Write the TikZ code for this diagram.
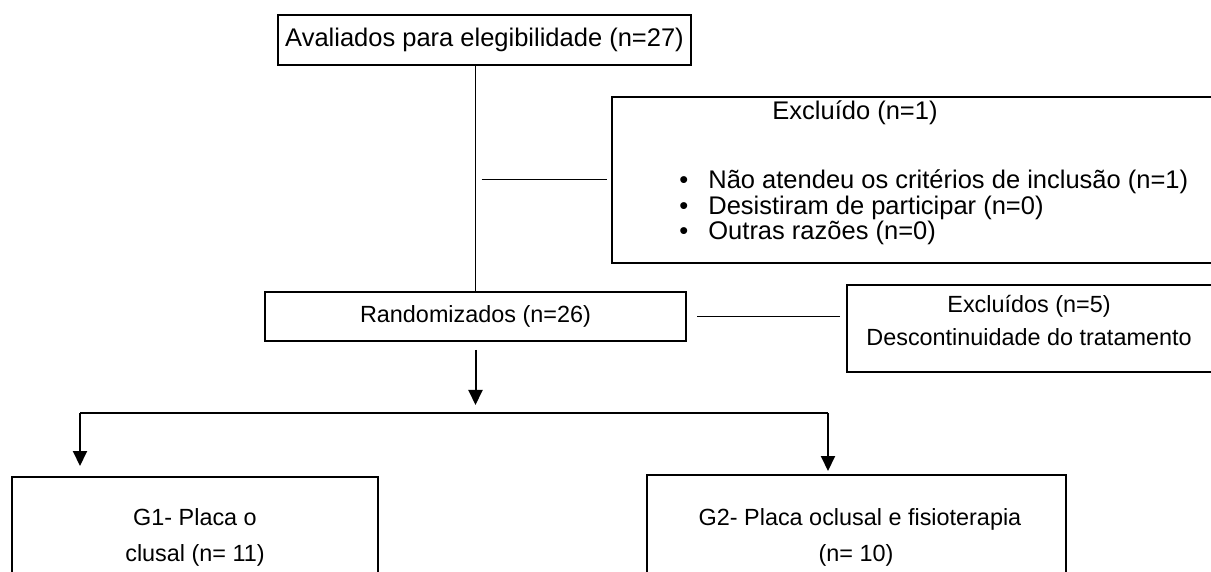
\documentclass[tikz,border=0pt]{standalone}
\usepackage{fontspec}
\setmainfont{Liberation Sans}
\usetikzlibrary{positioning,arrows.meta}

\newcommand{\critbul}{\makebox[14.5pt][l]{\textbullet}}

\begin{document}
\begin{tikzpicture}[x=0.5pt,y=-0.5pt,
  big/.style={font=\fontsize{12.75}{15}\selectfont},
  small/.style={font=\fontsize{11.7}{14}\selectfont},
  box/.style={draw, rectangle, line width=1pt, inner sep=0pt},
  txt/.style={inner sep=0pt, anchor=base},
  link/.style={line width=0.5pt},
  arr/.style={line width=1pt, -{Triangle[width=7pt,length=7.5pt]}}
]
\useasboundingbox (0,0) rectangle (1211,572);
\clip (0,0) rectangle (1211,572);

% Screening
\node[box, big, minimum width=206.5pt, minimum height=25pt] (aval) at (484.5,40) {Avaliados para elegibilidade (n=27)};

% Excluded before randomisation
\node[box, minimum width=302pt, minimum height=83pt] (excl) at (914,180) {};
\node[txt, big] (exclT) at (855,120) {Excluído (n=1)};
\node[txt, big, anchor=base west] (crit1) at (679,189) {\critbul Não atendeu os critérios de inclusão (n=1)};
\node[txt, big, anchor=base west] (crit2) at (679,214.5) {\critbul Desistiram de participar (n=0)};
\node[txt, big, anchor=base west] (crit3) at (679,240) {\critbul Outras razões (n=0)};

% Randomised
\node[box, small, minimum width=210.5pt, minimum height=24.5pt] (rand) at (475.5,316.5) {Randomizados (n=26)};

% Excluded after randomisation
\node[box, minimum width=186.5pt, minimum height=43.5pt] (exdisc) at (1033.5,328.5) {};
\node[txt, small] (exdiscT) at (1029,313) {Excluídos (n=5)};
\node[txt, small] (exdiscD) at (1029,346) {Descontinuidade do tratamento};

% Groups
\node[box, minimum width=183pt, minimum height=61.5pt] (g1) at (195,538.5) {};
\node[txt, small] (g1a) at (195,525) {G1- Placa o};
\node[txt, small] (g1b) at (195,561) {clusal (n= 11)};

\node[box, minimum width=209.5pt, minimum height=62.5pt] (g2) at (856.5,537.5) {};
\node[txt, small] (g2a) at (860,525) {G2- Placa oclusal e fisioterapia};
\node[txt, small] (g2b) at (856,561) {(n= 10)};

% Connectors
\coordinate (tee) at (rand.north |- excl.west);
\coordinate (splitL) at (80,413);
\coordinate (splitR) at (828,413);
\coordinate (splitM) at (rand.south |- splitL);

\draw[link] (aval.south -| rand.north) -- (rand.north);
\draw[link, shorten <=3pt, shorten >=2pt] (tee) -- (excl.west);
\draw[link, shorten <=5pt, shorten >=3pt] (rand.east) -- (rand.east -| exdisc.west);
\draw[arr, shorten <=4pt, shorten >=4pt] (rand.south) -- (splitM);
\draw[line width=0.75pt] (splitL) -- (splitR);
\draw[arr, shorten >=5pt] (splitL) -- (splitL |- g1.north);
\draw[arr, shorten >=1.5pt] (splitR) -- (splitR |- g2.north);

\end{tikzpicture}
\end{document}
